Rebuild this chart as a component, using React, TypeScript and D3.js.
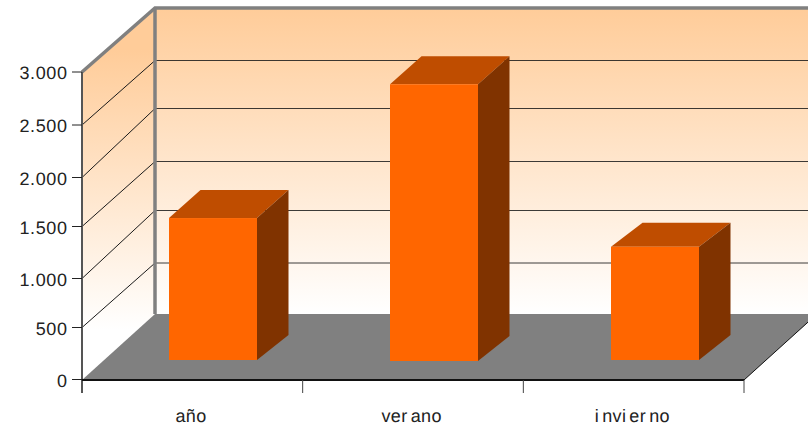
import React from 'react';
import * as d3 from 'd3';

const categories = ['año', 'verano', 'invierno'];
const values = [1385, 2690, 1105];
const yTicks = [0, 500, 1000, 1500, 2000, 2500, 3000];

// the picture's ticks are not evenly spaced, so both scales keep its own rows
const frontRows = [379.5, 327.5, 278.5, 226.5, 177.5, 125, 72];
const backRows = [314, 263, 210.5, 161.5, 108.5, 60.5, 8];

// the odd gaps the original renderer leaves between some letters
const letterGaps = [[], [3], [1, 4, 6]];

const width = 808;
const height = 428;

// 3D box of the chart
const left = 82;
const right = 744;
const depthX = 73;
const back = left + depthX;
const backRight = right + depthX;
const floorFront = 380;
const floorBack = 314;

// bars stand a bit inside the floor, their boxes are not all rounded alike
const barWidth = 88;
const barInset = 21;
const barBases = [360, 361, 360];
const barDepthX = 31.5;
const barRiseTop = [28, 28, 24];
const barRiseBottom = 25;

const fmt = d3.formatLocale({ decimal: ',', thousands: '.', grouping: [3], currency: ['', ''] }).format(',');

const font = '"Liberation Sans", Arial, sans-serif';
const textColor = '#222';

const spacing = (label: string, gaps: number[], base: number) =>
  Array.from(label).map((_, i) => (i === 0 ? 0 : base + (gaps.includes(i) ? 3 : 0))).join(' ');

export default function App() {
  const x = d3.scaleBand<string>().domain(categories).range([left, right]);
  const yFront = d3.scaleLinear().domain(yTicks).range(frontRows);
  const yBack = d3.scaleLinear().domain(yTicks).range(backRows);
  // bar heights use the straight scale, without the row rounding
  const h = d3.scaleLinear().domain([0, 3000]).range([0, 307.5]);

  const line = d3.line();
  const poly = (pts: [number, number][]) => line(pts) + 'Z';

  const edges = [left, ...categories.map((c) => (x(c) as number) + x.bandwidth())];

  return (
    <svg
      width={width}
      height={height}
      viewBox={`0 0 ${width} ${height}`}
      style={{ position: 'absolute', left: 0, top: 0, background: '#fff' }}
    >
      <defs>
        <linearGradient id="backWall" gradientUnits="userSpaceOnUse" x1="0" y1={yBack(3000)} x2="0" y2={yBack(0)}>
          <stop offset="0" stopColor="#ffcc99" />
          <stop offset="1" stopColor="#ffffff" />
        </linearGradient>
        <linearGradient id="sideWall" gradientUnits="userSpaceOnUse" x1="0" y1={50} x2="0" y2={330}>
          <stop offset="0" stopColor="#ffcc99" />
          <stop offset="1" stopColor="#ffffff" />
        </linearGradient>
      </defs>

      {/* walls */}
      <rect x={back} y={yBack(3000)} width={width - back} height={floorBack - yBack(3000)} fill="url(#backWall)" />
      <path
        d={poly([[left, yFront(3000)], [back, yBack(3000)], [back, floorBack], [left, floorFront]])}
        fill="url(#sideWall)"
      />

      {/* floor */}
      <path
        d={poly([[left, floorFront], [right, floorFront], [backRight, floorBack], [back, floorBack]])}
        fill="#808080"
      />

      {/* grid */}
      {yTicks.slice(1, -1).map((t) => (
        <g key={t} fill="none" stroke="#1a1a1a" strokeWidth={1}>
          <line x1={left} y1={yFront(t)} x2={back} y2={yBack(t)} />
          <line x1={back} y1={yBack(t)} x2={width} y2={yBack(t)} strokeOpacity={0.85} />
        </g>
      ))}

      {/* wall frame */}
      <path
        d={line([[left, yFront(3000)], [back, yBack(3000)], [width, yBack(3000)]]) as string}
        fill="none"
        stroke="#808080"
        strokeWidth={3.5}
      />
      <line x1={back} y1={yBack(3000)} x2={back} y2={floorBack} stroke="#808080" strokeWidth={3.5} />

      {/* bars */}
      {categories.map((c, i) => {
        const x0 = Math.round((x(c) as number) + (x.bandwidth() - barWidth) / 2 + barInset);
        const x1 = x0 + barWidth;
        const base = barBases[i];
        const top = 360 - h(values[i]);
        const rise = barRiseTop[i];
        return (
          <g key={c}>
            <path
              d={poly([[x0, top], [x1, top], [x1 + barDepthX, top - rise], [x0 + barDepthX, top - rise]])}
              fill="#bf4d00"
            />
            <path
              d={poly([[x1, top], [x1 + barDepthX, top - rise], [x1 + barDepthX, base - barRiseBottom], [x1, base]])}
              fill="#803300"
            />
            <rect x={x0} y={top} width={barWidth} height={base - top} fill="#ff6600" />
          </g>
        );
      })}

      {/* y axis */}
      <line x1={left} y1={yFront(3000)} x2={left} y2={floorFront + 13} stroke="#555" strokeWidth={2} />
      {yTicks.map((t) => (
        <g key={t}>
          <line x1={left - 10} y1={yFront(t)} x2={left} y2={yFront(t)} stroke="#222" strokeWidth={1} />
          <text
            x={left - 14.5}
            y={yFront(t) + 7}
            textAnchor="end"
            fontFamily={font}
            fontSize={18}
            letterSpacing={0.6}
            textRendering="geometricPrecision"
            fill={textColor}
          >
            {fmt(t)}
          </text>
        </g>
      ))}

      {/* x axis */}
      <line x1={left} y1={floorFront} x2={right} y2={floorFront} stroke="#111" strokeWidth={2} />
      <line x1={right} y1={floorFront} x2={backRight} y2={floorBack} stroke="#111" strokeWidth={1} />
      {edges.slice(1).map((e) => (
        <line key={e} x1={e} y1={floorFront} x2={e} y2={floorFront + 13} stroke="#444" strokeWidth={1} />
      ))}
      {categories.map((c, i) => (
        <text
          key={c}
          x={(x(c) as number) + x.bandwidth() / 2 - 1.5}
          y={422}
          textAnchor="middle"
          fontFamily={font}
          fontSize={18}
          dx={spacing(c, letterGaps[i], 0.4)}
          textRendering="geometricPrecision"
          fill={textColor}
        >
          {c}
        </text>
      ))}
    </svg>
  );
}
